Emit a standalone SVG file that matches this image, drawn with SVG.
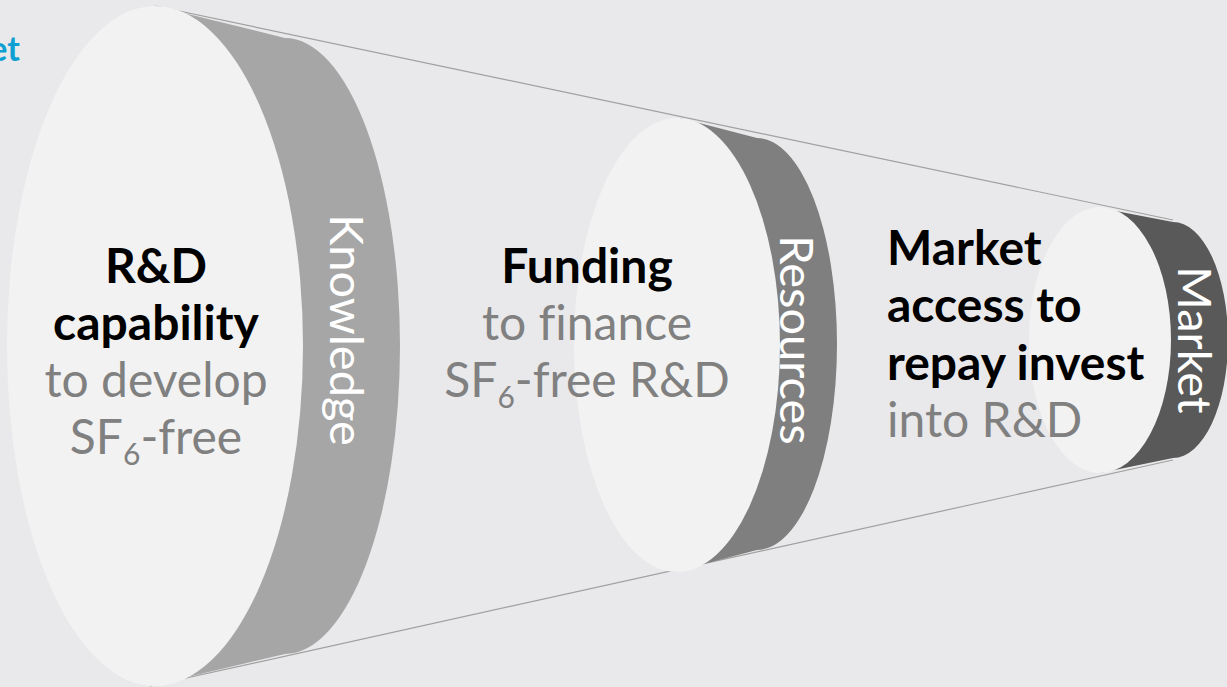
<svg xmlns="http://www.w3.org/2000/svg" width="1227" height="687" viewBox="0 0 1227 687">
<style>
.bg{fill:#e9e9eb}
.face{fill:#f2f2f2}
.cone{stroke:#a0a0a0;stroke-width:1.2;fill:none}
.t{font-family:Lato,"Liberation Sans",sans-serif;font-size:48px;font-variant-ligatures:none}
.b{font-weight:700;fill:#000}
.g{fill:#808080}
.lab{font-family:Lato,"Liberation Sans",sans-serif;font-size:47px;fill:#fff;font-weight:400}
.sub{font-size:30px}
</style>
<rect class="bg" x="0" y="0" width="1227" height="687"/>
<text x="20" y="61" text-anchor="end" style="font-family:Lato,'Liberation Sans',sans-serif;font-size:34px;font-weight:700;fill:#0ea0d2">et</text>
<g id="connectors">
<line class="cone" x1="155" y1="6" x2="1173" y2="220"/>
<line class="cone" x1="150" y1="686" x2="1173" y2="460"/>
</g>
<g id="knowledge">
<path d="M155,6 L285,38 A115,308 0 0 1 285,654 L150,686 Z" fill="#a6a6a6"/>
<ellipse class="face" cx="155" cy="346" rx="148" ry="340"/>
<text class="lab" transform="translate(330,330) rotate(90)" text-anchor="middle">Knowledge</text>
<text class="t" text-anchor="middle"><tspan class="b" x="156" y="283">R&amp;D</tspan><tspan class="b" x="156" y="340">capability</tspan><tspan class="g" x="156" y="397">to develop</tspan><tspan class="g" x="156" y="454">SF<tspan class="sub" dy="11">6</tspan><tspan dy="-11">-free</tspan></tspan></text>
</g>
<g id="resources">
<path d="M680,118 L757,138 A80,206 0 0 1 757,550 L673,572 Z" fill="#7f7f7f"/>
<ellipse class="face" cx="677" cy="345" rx="103" ry="227"/>
<text class="lab" transform="translate(780,340) rotate(90)" text-anchor="middle">Resources</text>
<text class="t" text-anchor="middle"><tspan class="b" x="587" y="283">Funding</tspan><tspan class="g" x="587" y="340">to finance</tspan><tspan class="g" x="587" y="397">SF<tspan class="sub" dy="11">6</tspan><tspan dy="-11">-free R&amp;D</tspan></tspan></text>
</g>
<g id="market">
<path d="M1100,208 L1173,222 A55,118 0 0 1 1173,458 L1100,473 Z" fill="#595959"/>
<ellipse class="face" cx="1100" cy="340" rx="71" ry="133"/>
<text class="lab" transform="translate(1178,340) rotate(90)" text-anchor="middle">Market</text>
<text class="t"><tspan class="b" x="887" y="265">Market</tspan><tspan class="b" x="887" y="322">access to</tspan><tspan class="b" x="887" y="380">repay invest</tspan><tspan class="g" x="887" y="437">into R&amp;D</tspan></text>
</g>
</svg>
